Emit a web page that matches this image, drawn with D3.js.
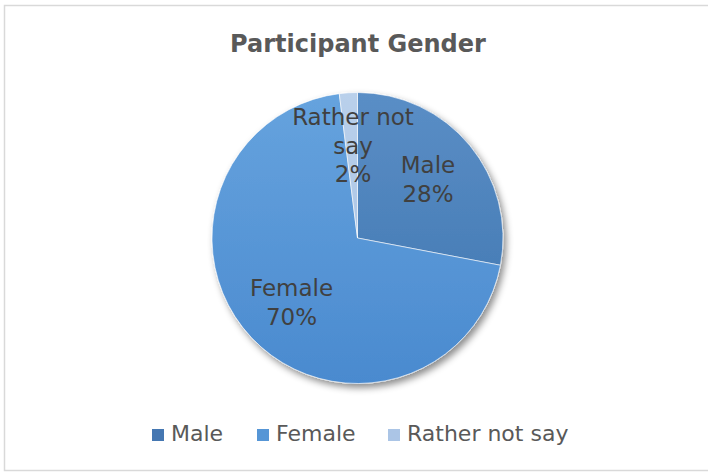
<!DOCTYPE html>
<html><head><meta charset="utf-8">
<script src="https://cdn.jsdelivr.net/npm/d3@7"></script>
<style>html,body{margin:0;padding:0;background:#fff;}svg{display:block;}</style>
</head><body>
<script>
const categories = ["Male", "Female", "Rather not say"];
const values = [28, 70, 2];
const labelLines = [["Male", "28%"], ["Female", "70%"], ["Rather not", "say", "2%"]];
const colorsTop = ["#5a8ec6", "#66a3de", "#b9d0eb"];
const colorsBottom = ["#3e74ae", "#4a8acf", "#a3bfe2"];
const legendColors = ["#4577b2", "#5696d6", "#abc5e6"];
const title = "Participant Gender";

const W = 708, H = 472;
const svg = d3.select("body").append("svg").attr("width", W).attr("height", H);
const FONT = "'DejaVu Sans', sans-serif";

// frame
svg.append("rect").attr("x", 4.5).attr("y", 5.5).attr("width", W + 10).attr("height", 465)
  .attr("fill", "#fff").attr("stroke", "#d9d9d9").attr("stroke-width", 1.5);

const defs = svg.append("defs");
const f = defs.append("filter").attr("id", "sh").attr("x", "-20%").attr("y", "-20%").attr("width", "140%").attr("height", "140%");
f.append("feDropShadow").attr("dx", 3).attr("dy", 4).attr("stdDeviation", 3.5).attr("flood-color", "#000").attr("flood-opacity", 0.45);

categories.forEach((c, i) => {
  const g = defs.append("linearGradient").attr("id", "g" + i).attr("gradientUnits", "userSpaceOnUse")
    .attr("x1", 0).attr("y1", -146).attr("x2", 0).attr("y2", 146);
  g.append("stop").attr("offset", "0%").attr("stop-color", colorsTop[i]);
  g.append("stop").attr("offset", "100%").attr("stop-color", colorsBottom[i]);
});

svg.append("text").attr("x", 358).attr("y", 52).attr("text-anchor", "middle")
  .attr("font-family", FONT).attr("font-weight", "bold").attr("font-size", 24)
  .attr("fill", "#595959").text(title);

const cx = 357.5, cy = 238, R = 145.5;
const pie = d3.pie().sort(null).value(d => d)(values);
const arc = d3.arc().innerRadius(0).outerRadius(R);
const g = svg.append("g").attr("transform", `translate(${cx},${cy})`);
const pg = g.append("g").attr("filter", "url(#sh)");
pg.selectAll("path").data(pie).enter().append("path")
  .attr("d", arc).attr("fill", (d, i) => `url(#g${i})`)
  .attr("stroke", "#fff").attr("stroke-width", 0.6);

const labelPos = [[70.5, -65], [-66, 58], [-4.5, -113]];
const lh = 28.5;
pie.forEach((d, i) => {
  const lines = labelLines[i];
  const t = g.append("text").attr("text-anchor", "middle").attr("font-family", FONT)
    .attr("font-size", 23).attr("fill", "#404040");
  lines.forEach((l, k) => {
    t.append("tspan").attr("x", labelPos[i][0]).attr("y", labelPos[i][1] + k * lh).text(l);
  });
});

// legend
const legX = [152, 257, 388];
const lg = svg.append("g");
categories.forEach((c, i) => {
  lg.append("rect").attr("x", legX[i]).attr("y", 429).attr("width", 12).attr("height", 12).attr("fill", legendColors[i]);
  lg.append("text").attr("x", legX[i] + 19).attr("y", 441).attr("font-family", FONT)
    .attr("font-size", 22).attr("fill", "#595959").text(c);
});
</script>
</body></html>
